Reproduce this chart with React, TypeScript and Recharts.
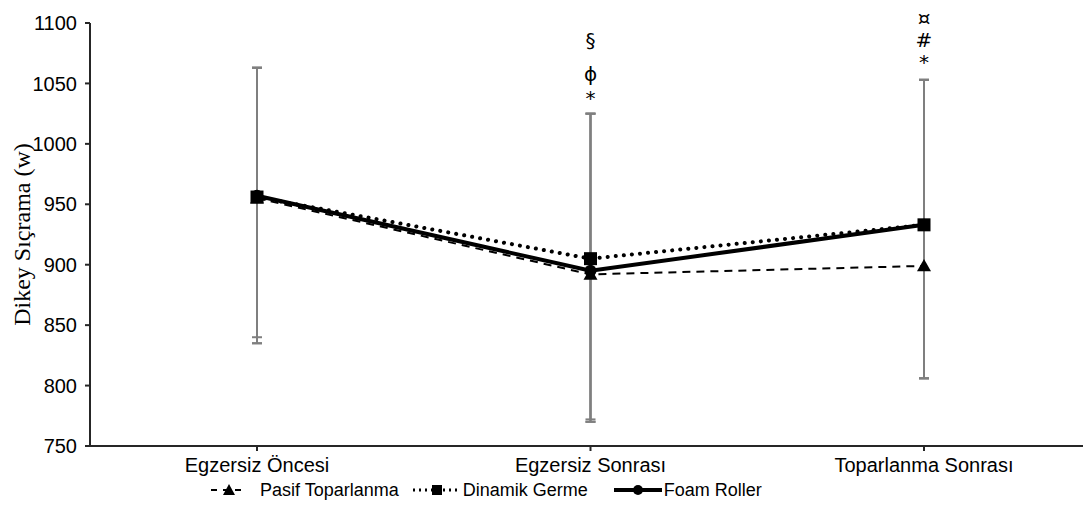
import React from 'react';
import { LineChart, Line, XAxis, YAxis, ErrorBar, ReferenceDot, Legend } from 'recharts';

const categories = ['Egzersiz Öncesi', 'Egzersiz Sonrası', 'Toparlanma Sonrası'];
const pasifValues = [955, 892, 899];
const dinamikValues = [956, 905, 933];
const foamValues = [957, 895, 933];
// [lower, upper] error extents
const pasifErrors: [number, number][] = [[120, 108], [122, 133], [93, 154]];
const dinamikErrors: [number, number][] = [[116, 107], [133, 120], [127, 120]];
const foamErrors: [number, number][] = [[122, 106], [125, 130], [127, 120]];
const yTicks = [750, 800, 850, 900, 950, 1000, 1050, 1100];
const annotations = [
  { cat: 'Egzersiz Sonrası', value: 1086, text: '§' },
  { cat: 'Egzersiz Sonrası', value: 1058, text: 'ϕ' },
  { cat: 'Egzersiz Sonrası', value: 1038, text: '*' },
  { cat: 'Toparlanma Sonrası', value: 1104, text: '¤' },
  { cat: 'Toparlanma Sonrası', value: 1086, text: '#' },
  { cat: 'Toparlanma Sonrası', value: 1068, text: '*' },
];

const data = categories.map((c, i) => ({
  cat: c,
  pasif: pasifValues[i],
  dinamik: dinamikValues[i],
  foam: foamValues[i],
  pasifErr: pasifErrors[i],
  dinamikErr: dinamikErrors[i],
  foamErr: foamErrors[i],
}));

const FONT = '"Liberation Sans", Arial, sans-serif';

const TriangleDot = (props: any) => {
  const { cx, cy } = props;
  if (cx == null || cy == null) return null;
  const s = 7;
  return <path d={`M${cx},${cy - s} L${cx + s},${cy + s * 0.75} L${cx - s},${cy + s * 0.75} Z`} fill="#000" />;
};
const SquareDot = (props: any) => {
  const { cx, cy } = props;
  if (cx == null || cy == null) return null;
  return <rect x={cx - 6.5} y={cy - 6.5} width={13} height={13} fill="#000" />;
};
const CircleDot = (props: any) => {
  const { cx, cy } = props;
  if (cx == null || cy == null) return null;
  return <circle cx={cx} cy={cy} r={6} fill="#000" />;
};

const legendItems = [
  { name: 'Pasif Toparlanma', dash: '6 6', width: 2, marker: 'tri', sw: 36 },
  { name: 'Dinamik Germe', dash: '2 4', width: 3, marker: 'sq', sw: 48 },
  { name: 'Foam Roller', dash: undefined, width: 4, marker: 'circ', sw: 48 },
];

const LegendContent = () => (
  <div style={{ height: 28, display: 'flex', alignItems: 'center', paddingLeft: 211, fontFamily: FONT, fontSize: 18, color: '#000' }}>
    {legendItems.map((it, i) => (
      <div key={it.name} style={{ display: 'flex', alignItems: 'center', marginRight: i === 0 ? 14 : 26 }}>
        <svg width={it.sw} height={16} style={{ marginRight: i === 0 ? 13 : 2 }}>
          <line x1={0} y1={8} x2={it.sw} y2={8} stroke="#000" strokeWidth={it.width} strokeDasharray={it.dash} />
          {it.marker === 'tri' && <path d={`M${it.sw / 2},2 L${it.sw / 2 + 6},13 L${it.sw / 2 - 6},13 Z`} fill="#000" />}
          {it.marker === 'sq' && <rect x={it.sw / 2 - 5} y={3} width={10} height={10} fill="#000" />}
          {it.marker === 'circ' && <circle cx={it.sw / 2} cy={8} r={5} fill="#000" />}
        </svg>
        <span>{it.name}</span>
      </div>
    ))}
  </div>
);

export default function App() {
  return (
    <div style={{ position: 'fixed', left: 0, top: 0, width: 1083, height: 512, background: '#fff', overflow: 'hidden' }}>
      <LineChart width={1083} height={512} data={data} margin={{ top: 23, right: 0, bottom: 8, left: 0 }}>
        <XAxis
          dataKey="cat"
          padding={{ left: 167, right: 159 }}
          axisLine={{ stroke: '#262626', strokeWidth: 2 }}
          tickLine={{ stroke: '#262626', strokeWidth: 2 }}
          tickSize={5}
          tickMargin={7}
          height={30}
          tick={{ fill: '#000', fontSize: 20, fontFamily: FONT }}
          interval={0}
        />
        <YAxis
          domain={[750, 1100]}
          ticks={yTicks}
          allowDataOverflow
          width={90}
          axisLine={{ stroke: '#262626', strokeWidth: 2 }}
          tickLine={{ stroke: '#262626', strokeWidth: 2 }}
          tickSize={5}
          tickMargin={8}
          tick={{ fill: '#000', fontSize: 20, fontFamily: FONT }}
          label={{
            value: 'Dikey Sıçrama (w)',
            angle: -90,
            position: 'insideLeft',
            offset: 21,
            style: { textAnchor: 'middle', fontFamily: '"Liberation Serif", "Times New Roman", serif', fontSize: 24, fill: '#000' },
          }}
        />
        <Legend verticalAlign="bottom" content={<LegendContent />} />
        <Line
          dataKey="pasif"
          name="Pasif Toparlanma"
          stroke="#000"
          strokeWidth={2}
          strokeDasharray="8 6"
          dot={<TriangleDot />}
          activeDot={false}
          isAnimationActive={false}
        >
          <ErrorBar dataKey="pasifErr" direction="y" width={5} stroke="#7f7f7f" strokeWidth={2} />
        </Line>
        <Line
          dataKey="foam"
          name="Foam Roller"
          stroke="#000"
          strokeWidth={4}
          dot={<CircleDot />}
          activeDot={false}
          isAnimationActive={false}
        >
          <ErrorBar dataKey="foamErr" direction="y" width={5} stroke="#7f7f7f" strokeWidth={2} />
        </Line>
        <Line
          dataKey="dinamik"
          name="Dinamik Germe"
          stroke="#000"
          strokeWidth={4}
          strokeDasharray="0.1 8"
          strokeLinecap="round"
          dot={<SquareDot />}
          activeDot={false}
          isAnimationActive={false}
        >
          <ErrorBar dataKey="dinamikErr" direction="y" width={5} stroke="#7f7f7f" strokeWidth={2} />
        </Line>
        {annotations.map((a, i) => (
          <ReferenceDot
            key={i}
            x={a.cat}
            y={a.value}
            r={0}
            ifOverflow="visible"
            label={{ value: a.text, position: 'center', fill: '#000', fontSize: 20, fontFamily: '"DejaVu Sans", sans-serif' }}
          />
        ))}
      </LineChart>
    </div>
  );
}
